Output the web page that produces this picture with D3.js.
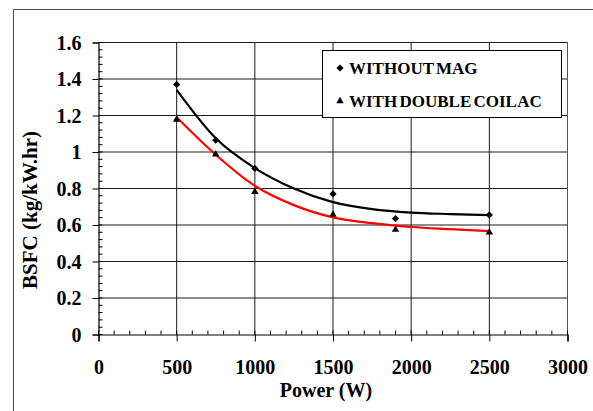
<!DOCTYPE html>
<html>
<head>
<meta charset="utf-8">
<script src="https://cdn.jsdelivr.net/npm/d3@7"></script>
<style>
  html, body { margin: 0; padding: 0; background: #fff; }
  svg { display: block; }
</style>
</head>
<body>
<svg id="chart" width="593" height="411"></svg>
<script>
// Measured points: power output (W) and brake specific fuel consumption (kg/kW.hr)
const power = [500, 750, 1000, 1500, 1900, 2500];
const withoutMag = [1.37, 1.065, 0.91, 0.77, 0.635, 0.655];
const doubleCoil = [1.18, 0.99, 0.785, 0.66, 0.577, 0.562];

// Fitted trend curves through each series
const trendPower = [500, 750, 1000, 1250, 1500, 1750, 2000, 2250, 2500];
const trendWithoutMag = [1.34, 1.075, 0.912, 0.80, 0.725, 0.687, 0.668, 0.66, 0.654];
const trendDoubleCoil = [1.19, 0.985, 0.815, 0.709, 0.642, 0.61, 0.589, 0.577, 0.566];

// Axis ticks
const xTicks = [0, 500, 1000, 1500, 2000, 2500, 3000];
const yTicks = [0, 0.2, 0.4, 0.6, 0.8, 1, 1.2, 1.4, 1.6];
const xMinorStep = 100;
const yMinorStep = 0.04;

const seriesNames = ["WITHOUT MAG", "WITH DOUBLE COIL AC"];

const FONT = '"Liberation Serif"';
const svg = d3.select("#chart");

function styleText(sel, size) {
  return sel.style("font-family", FONT).style("font-weight", "bold")
    .style("font-size", size + "px").style("fill", "#000");
}

const x = d3.scaleLinear().domain([0, 3000]).range([98.5, 567.5]);
const y = d3.scaleLinear().domain([0, 1.6]).range([334.5, 42.5]);

// Outer chart frame
svg.append("path")
  .attr("d", "M13.5,420 L13.5,9.5 L600,9.5")
  .attr("fill", "none")
  .attr("stroke", "#4a4a4a")
  .attr("stroke-width", 1);

// Grid lines
const grid = svg.append("g").attr("stroke", "#1a1a1a").attr("stroke-width", 1);
grid.selectAll("line.h").data(yTicks.slice(1)).join("line")
  .attr("x1", x(0)).attr("x2", x(3000))
  .attr("y1", d => y(d)).attr("y2", d => y(d));
grid.selectAll("line.v").data(xTicks.slice(1)).join("line")
  .attr("x1", d => x(d)).attr("x2", d => x(d))
  .attr("y1", y(0)).attr("y2", y(1.6));

// Right edge of the plot frame, a little lighter
svg.append("line").attr("x1", x(3000)).attr("x2", x(3000)).attr("y1", y(0)).attr("y2", y(1.6))
  .attr("stroke", "#555").attr("stroke-width", 1);

// Minor ticks pointing inward
const xMinor = d3.range(0, 3000 + 1e-9, xMinorStep);
const yMinor = d3.range(0, 1.6 + 1e-9, yMinorStep);
svg.append("g").attr("stroke", "#000").attr("stroke-width", 1)
  .selectAll("line").data(xMinor).join("line")
  .attr("x1", d => x(d)).attr("x2", d => x(d))
  .attr("y1", y(0)).attr("y2", y(0) - 4);
svg.append("g").attr("stroke", "#000").attr("stroke-width", 1)
  .selectAll("line").data(yMinor).join("line")
  .attr("x1", x(0)).attr("x2", x(0) + 4)
  .attr("y1", d => y(d)).attr("y2", d => y(d));

// Axes with outward major ticks
const xAxis = d3.axisBottom(x).tickValues(xTicks).tickSize(7).tickPadding(18).tickFormat(d3.format("d"));
const yAxis = d3.axisLeft(y).tickValues(yTicks).tickSize(6).tickPadding(11).tickFormat(d => d3.format("~g")(d));

const gx = svg.append("g").attr("transform", `translate(0,${y(0)})`).call(xAxis);
const gy = svg.append("g").attr("transform", `translate(${x(0)},0)`).call(yAxis);
[gx, gy].forEach(g => {
  g.select(".domain").attr("stroke", "#000").attr("stroke-width", 1.2);
  g.selectAll(".tick line").attr("stroke", "#000");
  styleText(g.selectAll(".tick text"), 20);
});
gy.selectAll(".tick text").attr("dy", "0.34em");

// Axis titles
styleText(svg.append("text")
  .attr("x", 326).attr("y", 397)
  .attr("text-anchor", "middle")
  .text("Power (W)"), 20);
styleText(svg.append("text")
  .attr("transform", "translate(37,210) rotate(-90)")
  .attr("text-anchor", "middle")
  .text("BSFC (kg/kW.hr)"), 21);

// Trend curves
const line = d3.line().x(d => x(d[0])).y(d => y(d[1])).curve(d3.curveMonotoneX);
svg.append("path")
  .datum(d3.zip(trendPower, trendWithoutMag))
  .attr("d", line).attr("fill", "none").attr("stroke", "#000").attr("stroke-width", 2.2);
svg.append("path")
  .datum(d3.zip(trendPower, trendDoubleCoil))
  .attr("d", line).attr("fill", "none").attr("stroke", "#ff0000").attr("stroke-width", 2.2);

// Markers
const diamond = d3.symbol().type(d3.symbolSquare).size(26);
const triangle = d3.symbol().type(d3.symbolTriangle).size(24);

svg.append("g").selectAll("path").data(d3.zip(power, withoutMag)).join("path")
  .attr("d", diamond)
  .attr("transform", d => `translate(${x(d[0])},${y(d[1])}) rotate(45)`)
  .attr("fill", "#000");
svg.append("g").selectAll("path").data(d3.zip(power, doubleCoil)).join("path")
  .attr("d", triangle)
  .attr("transform", d => `translate(${x(d[0])},${y(d[1]) + 0.5})`)
  .attr("fill", "#000");

// Legend
const legend = svg.append("g");
legend.append("rect")
  .attr("x", 322.5).attr("y", 50.5).attr("width", 239).attr("height", 67)
  .attr("fill", "#fff").attr("stroke", "#000").attr("stroke-width", 1);
const legendMarks = [diamond, triangle];
seriesNames.forEach((name, i) => {
  const cy = 68 + i * 33;
  legend.append("path")
    .attr("d", legendMarks[i])
    .attr("transform", `translate(340,${cy})${i === 0 ? " rotate(45)" : ""}`)
    .attr("fill", "#000");
  styleText(legend.append("text")
    .attr("x", 349).attr("y", cy + 6)
    .style("word-spacing", "-2px")
    .text(name), 17);
});
</script>
</body>
</html>
